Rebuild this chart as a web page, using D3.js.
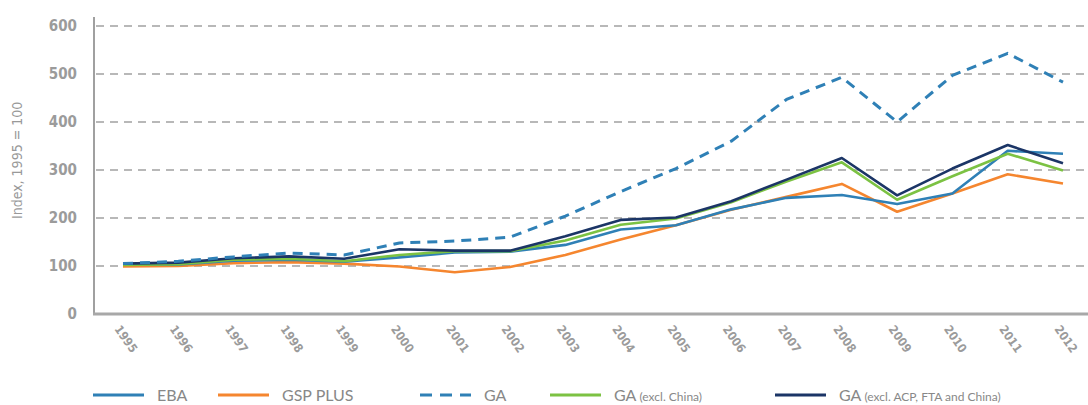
<!DOCTYPE html>
<html>
<head>
<meta charset="utf-8">
<script src="https://cdn.jsdelivr.net/npm/d3@7"></script>
<style>
  body { margin: 0; background: #fff; }
  svg { display: block; }
  .axisText { font-family: "Liberation Sans Narrow", "DejaVu Sans Condensed", sans-serif; font-weight: bold; fill: #9b9b9b; }
  .legendText { font-family: Lato, "Open Sans", sans-serif; fill: #888; }
</style>
</head>
<body>
<svg width="1088" height="405"></svg>
<script>
// data (index, 1995 = 100)
const years = [1995, 1996, 1997, 1998, 1999, 2000, 2001, 2002, 2003, 2004, 2005, 2006, 2007, 2008, 2009, 2010, 2011, 2012]
const eba = [103, 103, 111, 113, 109, 118, 128, 130, 144, 176, 185, 218, 242, 248, 229, 251, 340, 334]
const gspPlus = [99, 100, 106, 108, 105, 99, 87, 98, 123, 155, 185, 217, 244, 271, 213, 251, 291, 272]
const ga = [105, 110, 119, 127, 123, 148, 152, 160, 204, 255, 303, 360, 447, 493, 400, 497, 543, 483]
const gaExclChina = [102, 104, 113, 115, 110, 123, 131, 131, 153, 186, 199, 233, 276, 316, 238, 287, 334, 299]
const gaExclAcp = [105, 107, 116, 120, 115, 135, 132, 132, 162, 196, 201, 235, 280, 325, 247, 303, 352, 314]
const yTicks = [0, 100, 200, 300, 400, 500, 600]

const series = [
    {name: "EBA", sub: "", values: eba, colour: "#2f80b6", dash: null},
    {name: "GSP PLUS", sub: "", values: gspPlus, colour: "#f5862f", dash: null},
    {name: "GA", sub: "", values: ga, colour: "#2f80b6", dash: "10,7"},
    {name: "GA", sub: " (excl. China)", values: gaExclChina, colour: "#7cc243", dash: null},
    {name: "GA", sub: " (excl. ACP, FTA and China)", values: gaExclAcp, colour: "#1b3566", dash: null}
]

// draw order: thin blues under, navy on top
const drawOrder = [1, 0, 3, 4, 2]

const svg = d3.select("svg")

const x = d3.scaleLinear().domain([1995, 2012]).range([123, 1063])
const y = d3.scaleLinear().domain([0, 600]).range([314, 26])

//gridlines
svg.append("g").selectAll("line")
    .data(yTicks.filter(d => d > 0)).enter()
    .append("line")
    .attr("x1", 96).attr("x2", 1086)
    .attr("y1", d => y(d)).attr("y2", d => y(d))
    .style("stroke", "#b8b8b8")
    .style("stroke-width", 2)
    .style("stroke-dasharray", "8,6")

//axes lines
svg.append("line")
    .attr("x1", 94).attr("x2", 94).attr("y1", 17).attr("y2", 315)
    .style("stroke", "#a0a0a0").style("stroke-width", 2)
svg.append("line")
    .attr("x1", 93).attr("x2", 1088).attr("y1", 314).attr("y2", 314)
    .style("stroke", "#a8a8a8").style("stroke-width", 3)

// y tick labels
svg.append("g").selectAll("text")
    .data(yTicks).enter()
    .append("text")
    .classed("axisText", true)
    .attr("x", 77)
    .attr("y", d => y(d))
    .attr("dy", "0.36em")
    .style("text-anchor", "end")
    .style("font-size", "15px")
    .text(d => d)

// y axis title
svg.append("text")
    .classed("axisText", true)
    .attr("transform", "translate(22," + y(320) + ") rotate(-90)")
    .style("text-anchor", "middle")
    .style("font-size", "14px")
    .style("font-weight", "normal")
    .style("fill", "#999")
    .text("Index, 1995 = 100")

// x labels
svg.append("g").selectAll("text")
    .data(years).enter()
    .append("text")
    .classed("axisText", true)
    .attr("transform", d => "translate(" + (x(d) - 9) + ",329) rotate(55)")
    .style("font-size", "12px")
    .text(d => d)

// lines
const line = d3.line()
    .x((d, i) => x(years[i]))
    .y(d => y(d))

svg.append("g").selectAll("path")
    .data(drawOrder.map(i => series[i])).enter()
    .append("path")
    .attr("d", d => line(d.values))
    .style("fill", "none")
    .style("stroke", d => d.colour)
    .style("stroke-width", d => d.dash ? 3 : 2.6)
    .style("stroke-dasharray", d => d.dash)
    .style("stroke-linejoin", "round")

// legend
const legendX = [93, 218, 420, 550, 775]
const legend = svg.append("g")
const items = legend.selectAll("g")
    .data(series).enter()
    .append("g")
    .attr("transform", (d, i) => "translate(" + legendX[i] + ",395)")
items.append("line")
    .attr("x1", 0).attr("x2", 51)
    .style("stroke", d => d.colour)
    .style("stroke-width", 3)
    .style("stroke-dasharray", d => d.dash ? "12,8" : null)
const lt = items.append("text")
    .classed("legendText", true)
    .attr("x", 64)
    .attr("dy", "0.35em")
lt.append("tspan").style("font-size", "16px").text(d => d.name)
lt.append("tspan").style("font-size", "12px").text(d => d.sub)
</script>
</body>
</html>
